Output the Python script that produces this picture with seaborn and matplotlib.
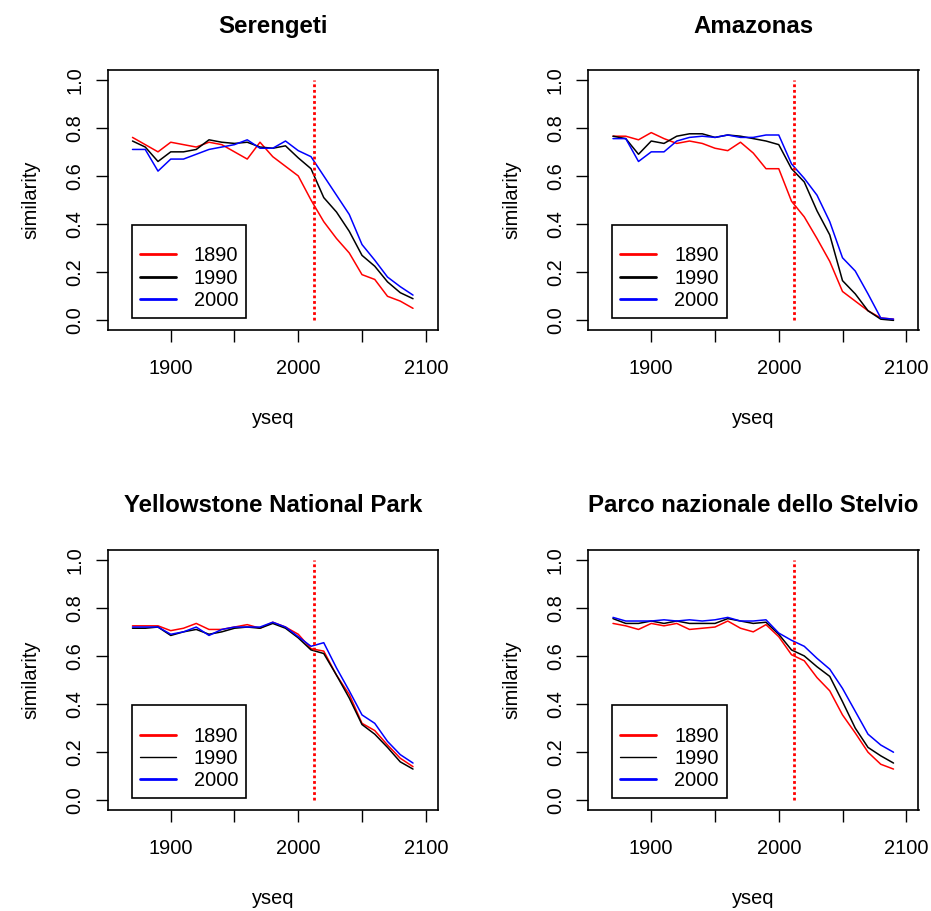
import numpy as np
import pandas as pd
import matplotlib
matplotlib.use('Agg')
import matplotlib.pyplot as plt
from matplotlib.lines import Line2D
import seaborn as sns

# years on the x axis (yseq)
yseq = list(range(1870, 2100, 10))
series_names = ['1890', '1990', '2000']
series_colors = ['red', 'black', 'blue']
panel_titles = ['Serengeti', 'Amazonas', 'Yellowstone National Park',
                'Parco nazionale dello Stelvio']
cut_year = 2012

# Serengeti
seren_1890 = [0.76, 0.73, 0.70, 0.74, 0.73, 0.72, 0.74, 0.73, 0.70, 0.67, 0.74, 0.68,
              0.64, 0.60, 0.50, 0.41, 0.34, 0.28, 0.19, 0.17, 0.10, 0.08, 0.05]
seren_1990 = [0.745, 0.72, 0.66, 0.70, 0.70, 0.71, 0.75, 0.74, 0.735, 0.74, 0.72, 0.715,
              0.725, 0.675, 0.63, 0.51, 0.45, 0.37, 0.27, 0.225, 0.16, 0.115, 0.09]
seren_2000 = [0.71, 0.71, 0.62, 0.67, 0.67, 0.69, 0.71, 0.72, 0.73, 0.75, 0.715, 0.715,
              0.745, 0.705, 0.68, 0.60, 0.52, 0.44, 0.315, 0.25, 0.18, 0.14, 0.105]

# Amazonas
amaz_1890 = [0.765, 0.765, 0.75, 0.78, 0.755, 0.735, 0.745, 0.735, 0.715, 0.705, 0.74, 0.695,
             0.63, 0.63, 0.495, 0.43, 0.34, 0.245, 0.12, 0.08, 0.04, 0.01, 0.005]
amaz_1990 = [0.765, 0.755, 0.69, 0.745, 0.735, 0.765, 0.775, 0.775, 0.76, 0.77, 0.765, 0.755,
             0.745, 0.73, 0.63, 0.575, 0.455, 0.355, 0.165, 0.11, 0.04, 0.005, 0.0]
amaz_2000 = [0.755, 0.755, 0.66, 0.70, 0.70, 0.745, 0.76, 0.765, 0.76, 0.77, 0.76, 0.76,
             0.77, 0.77, 0.65, 0.59, 0.52, 0.41, 0.26, 0.205, 0.11, 0.01, 0.005]

# Yellowstone National Park
yell_1890 = [0.725, 0.725, 0.725, 0.705, 0.715, 0.735, 0.71, 0.71, 0.72, 0.73, 0.715, 0.74,
             0.72, 0.69, 0.63, 0.62, 0.52, 0.44, 0.32, 0.29, 0.23, 0.175, 0.14]
yell_1990 = [0.715, 0.715, 0.72, 0.685, 0.70, 0.71, 0.69, 0.70, 0.715, 0.72, 0.715, 0.735,
             0.715, 0.675, 0.625, 0.61, 0.52, 0.425, 0.315, 0.275, 0.22, 0.16, 0.13]
yell_2000 = [0.72, 0.72, 0.72, 0.69, 0.70, 0.72, 0.685, 0.71, 0.72, 0.72, 0.72, 0.74,
             0.72, 0.68, 0.64, 0.655, 0.55, 0.455, 0.355, 0.32, 0.245, 0.19, 0.155]

# Parco nazionale dello Stelvio
stel_1890 = [0.735, 0.725, 0.71, 0.735, 0.725, 0.735, 0.71, 0.715, 0.72, 0.745, 0.715, 0.70,
             0.73, 0.68, 0.605, 0.58, 0.51, 0.455, 0.355, 0.28, 0.20, 0.15, 0.13]
stel_1990 = [0.755, 0.735, 0.735, 0.745, 0.735, 0.745, 0.735, 0.735, 0.735, 0.755, 0.745, 0.735,
             0.74, 0.69, 0.625, 0.60, 0.555, 0.515, 0.41, 0.30, 0.22, 0.185, 0.155]
stel_2000 = [0.76, 0.745, 0.745, 0.745, 0.75, 0.745, 0.75, 0.745, 0.75, 0.76, 0.745, 0.745,
             0.75, 0.695, 0.665, 0.64, 0.59, 0.545, 0.465, 0.37, 0.275, 0.23, 0.20]

panel_data = [
    (seren_1890, seren_1990, seren_2000),
    (amaz_1890, amaz_1990, amaz_2000),
    (yell_1890, yell_1990, yell_2000),
    (stel_1890, stel_1990, stel_2000),
]
# legend line widths differ a little between panels in the original
legend_widths = [(2, 2, 2), (2, 2, 2), (2, 1, 2), (2, 1, 2)]

sns.set_style('white')
plt.rcParams['font.family'] = ['Liberation Sans', 'DejaVu Sans']
plt.rcParams['text.color'] = 'black'
plt.rcParams['axes.labelcolor'] = 'black'

fig = plt.figure(figsize=(9.31, 9.11), dpi=100)
W, H = 931, 911
boxes = [(107.5, 70, 438, 330), (588, 70, 918.5, 330),
         (107.5, 550, 438, 810), (588, 550, 918.5, 810)]

fs = 14.4
for i, (title, vals) in enumerate(zip(panel_titles, panel_data)):
    l, t, r, b = boxes[i]
    ax = fig.add_axes([l / W, 1 - b / H, (r - l) / W, (b - t) / H])

    df = pd.concat([pd.DataFrame({'yseq': yseq, 'similarity': v, 'scenario': name})
                    for name, v in zip(series_names, vals)])
    sns.lineplot(data=df, x='yseq', y='similarity', hue='scenario',
                 palette=dict(zip(series_names, series_colors)),
                 linewidth=1.1, legend=False, ax=ax)
    ax.plot([cut_year, cut_year], [0, 1], color='red', lw=2,
            linestyle=(0, (1, 1)))

    ax.set_xlim(1850.4, 2109.6)
    ax.set_ylim(-0.04, 1.04)
    ax.set_xticks([1900, 1950, 2000, 2050, 2100])
    ax.set_xticklabels(['1900', '', '2000', '', '2100'])
    ax.set_yticks([0, 0.2, 0.4, 0.6, 0.8, 1.0])
    ax.set_yticklabels(['0.0', '0.2', '0.4', '0.6', '0.8', '1.0'],
                       rotation=90, va='center')
    ax.tick_params(axis='both', direction='out', length=8.6, width=1.0,
                   pad=8, labelsize=fs, colors='black', bottom=True, left=True)
    ax.tick_params(axis='x', pad=12.5)
    for sp in ax.spines.values():
        sp.set_color('black')
        sp.set_linewidth(1.2)

    ax.set_title(title, fontsize=17.3, fontweight='bold', pad=27, color='black')
    ax.set_xlabel('yseq', fontsize=fs, labelpad=22)
    ax.set_ylabel('similarity', fontsize=fs, labelpad=18)

    handles = [Line2D([], [], color=c, lw=w)
               for c, w in zip(series_colors, legend_widths[i])]
    leg = ax.legend(handles, series_names, loc='lower left',
                    bbox_to_anchor=(0.074, 0.045), borderaxespad=0,
                    fontsize=fs, handlelength=1.8, handletextpad=0.9,
                    borderpad=0.4, labelspacing=0.17, fancybox=False,
                    framealpha=1, edgecolor='black',
                    title=' ', title_fontsize=7)
    leg.get_frame().set_linewidth(1.2)

fig.savefig('out.png', dpi=100)
